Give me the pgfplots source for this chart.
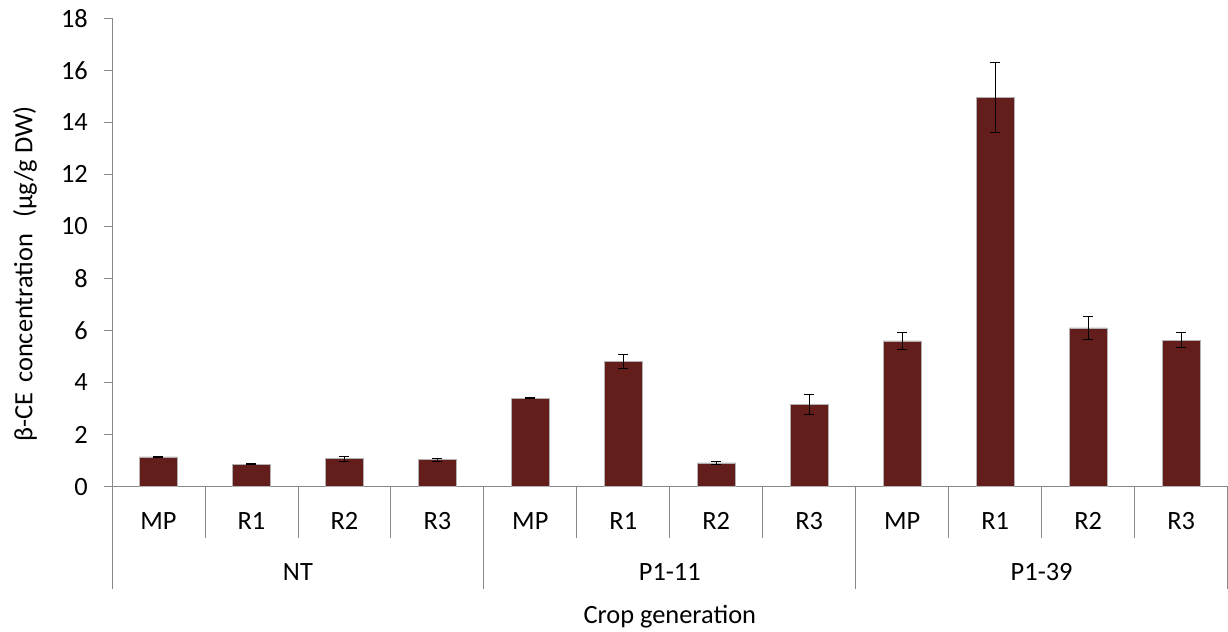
\documentclass[border=0pt]{standalone}
\usepackage{pgfplots}
\pgfplotsset{compat=1.18}
\usepackage{fontspec}
\setmainfont{Carlito}
\definecolor{barred}{RGB}{99,29,27}
\definecolor{axgray}{RGB}{137,137,137}
\begin{document}
\begin{tikzpicture}[font=\fontsize{26.5}{31}\selectfont]
\begin{axis}[
  name=ax,
  scale only axis, width=1116bp, height=468.4bp,
  xmin=-0.5, xmax=11.5, ymin=0, ymax=18,
  axis x line=bottom, axis y line=left,
  axis line style={draw=axgray, line width=0.8bp, -},
  xtick=\empty,
  ytick={0,2,...,18},
  tick align=outside, major tick length=8bp,
  ytick style={draw=axgray, line width=0.8bp},
  yticklabel style={inner sep=0pt, xshift=-16bp},
  /pgf/number format/assume math mode=true,
  ybar, bar width=38bp,
  clip=false,
]
\addplot[fill=barred, draw=gray!60, line width=0.5bp,
  error bars/.cd, y dir=both, y explicit,
  error bar style={black, line width=0.9bp},
  error mark options={black, line width=0.9bp, mark size=5bp, rotate=90}]
  table[x=x, y=y, y error=e] {
x y e
0 1.14 0.02
1 0.86 0.015
2 1.07 0.10
3 1.03 0.06
4 3.39 0.02
5 4.82 0.27
6 0.91 0.06
7 3.16 0.38
8 5.60 0.34
9 14.96 1.36
10 6.10 0.43
11 5.63 0.30
};
% category separators
\draw[axgray, line width=0.8bp] (axis cs:0.5,0) -- ++(0pt,-51.3bp);
\draw[axgray, line width=0.8bp] (axis cs:1.5,0) -- ++(0pt,-51.3bp);
\draw[axgray, line width=0.8bp] (axis cs:2.5,0) -- ++(0pt,-51.3bp);
\draw[axgray, line width=0.8bp] (axis cs:4.5,0) -- ++(0pt,-51.3bp);
\draw[axgray, line width=0.8bp] (axis cs:5.5,0) -- ++(0pt,-51.3bp);
\draw[axgray, line width=0.8bp] (axis cs:6.5,0) -- ++(0pt,-51.3bp);
\draw[axgray, line width=0.8bp] (axis cs:8.5,0) -- ++(0pt,-51.3bp);
\draw[axgray, line width=0.8bp] (axis cs:9.5,0) -- ++(0pt,-51.3bp);
\draw[axgray, line width=0.8bp] (axis cs:10.5,0) -- ++(0pt,-51.3bp);
\draw[axgray, line width=0.8bp] (axis cs:-0.5,0) -- ++(0pt,-102.3bp);
\draw[axgray, line width=0.8bp] (axis cs:3.5,0) -- ++(0pt,-102.3bp);
\draw[axgray, line width=0.8bp] (axis cs:7.5,0) -- ++(0pt,-102.3bp);
\draw[axgray, line width=0.8bp] (axis cs:11.5,0) -- ++(0pt,-102.3bp);
% sub labels
\node[anchor=base, yshift=-43.3bp] at (axis cs:0,0) {MP};
\node[anchor=base, yshift=-43.3bp] at (axis cs:1,0) {R1};
\node[anchor=base, yshift=-43.3bp] at (axis cs:2,0) {R2};
\node[anchor=base, yshift=-43.3bp] at (axis cs:3,0) {R3};
\node[anchor=base, yshift=-43.3bp] at (axis cs:4,0) {MP};
\node[anchor=base, yshift=-43.3bp] at (axis cs:5,0) {R1};
\node[anchor=base, yshift=-43.3bp] at (axis cs:6,0) {R2};
\node[anchor=base, yshift=-43.3bp] at (axis cs:7,0) {R3};
\node[anchor=base, yshift=-43.3bp] at (axis cs:8,0) {MP};
\node[anchor=base, yshift=-43.3bp] at (axis cs:9,0) {R1};
\node[anchor=base, yshift=-43.3bp] at (axis cs:10,0) {R2};
\node[anchor=base, yshift=-43.3bp] at (axis cs:11,0) {R3};
% group labels
\node[anchor=base, yshift=-94.3bp] at (axis cs:1.5,0) {NT};
\node[anchor=base, yshift=-94.3bp] at (axis cs:5.5,0) {P1-11};
\node[anchor=base, yshift=-94.3bp] at (axis cs:9.5,0) {P1-39};
% axis titles
\node[anchor=base, yshift=-137.3bp] at (rel axis cs:0.5,0) {Crop generation};
\node[rotate=90] at ([xshift=-87bp]rel axis cs:0,0.454) {β-CE\kern4bp\ concentration\kern10bp\ (µg/g DW)};
\end{axis}
\path ([shift={(-112bp,-145.3bp)}]ax.south west) rectangle ([shift={(0bp,18.3bp)}]ax.north east);
\end{tikzpicture}
\end{document}
